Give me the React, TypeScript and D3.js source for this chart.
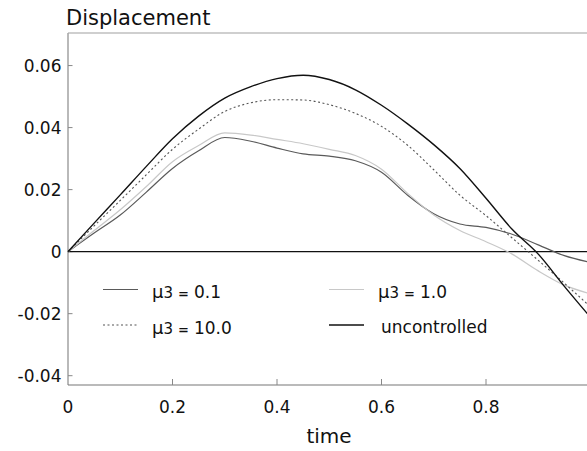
import React from "react";
import * as d3 from "d3";

const times = [0, 0.05, 0.1, 0.15, 0.2, 0.25, 0.3, 0.35, 0.4, 0.45, 0.5, 0.55, 0.6, 0.65, 0.7, 0.75, 0.8, 0.85, 0.9, 0.95, 1.0];

const mu01 = [0, 0.006, 0.0118, 0.0192, 0.0268, 0.0325, 0.0368, 0.0356, 0.0334, 0.0315, 0.0308, 0.0293, 0.0256, 0.0182, 0.0122, 0.0089, 0.0078, 0.0056, 0.0022, -0.0013, -0.0035];
const mu1 = [0, 0.0068, 0.0135, 0.021, 0.029, 0.0342, 0.0383, 0.0376, 0.0362, 0.0348, 0.033, 0.031, 0.0266, 0.0188, 0.0118, 0.0068, 0.0032, -0.0008, -0.0062, -0.0108, -0.0136];
const mu10 = [0, 0.0083, 0.0165, 0.0248, 0.033, 0.0395, 0.0452, 0.048, 0.049, 0.0489, 0.0474, 0.0446, 0.0404, 0.0343, 0.0264, 0.0182, 0.0116, 0.0044, -0.0028, -0.0102, -0.0178];
const uncontrolled = [0, 0.0092, 0.0183, 0.0275, 0.0364, 0.0437, 0.0495, 0.0532, 0.0558, 0.0569, 0.0555, 0.0522, 0.0472, 0.0412, 0.0345, 0.0268, 0.0172, 0.0072, -0.0008, -0.0112, -0.0212];

const yTicks = [0.06, 0.04, 0.02, 0, -0.02, -0.04];
const yTickLabels = ["0.06", "0.04", "0.02", "0", "-0.02", "-0.04"];
const xTicks = [0, 0.2, 0.4, 0.6, 0.8];
const xTickLabels = ["0", "0.2", "0.4", "0.6", "0.8"];

const series = [
  { name: "0.1", values: mu01, color: "#5a5a5a", width: 1.2, dash: "" },
  { name: "1.0", values: mu1, color: "#c8c8c8", width: 1.2, dash: "" },
  { name: "10.0", values: mu10, color: "#555", width: 1.1, dash: "2,2.5" },
  { name: "uncontrolled", values: uncontrolled, color: "#111", width: 1.4, dash: "" },
];

const W = 587;
const H = 451;
const FONT = "'DejaVu Sans', sans-serif";

export default function App() {
  const x = d3.scaleLinear().domain([0, 1]).range([68, 590.5]);
  const y = d3.scaleLinear().domain([-0.043, 0.0705]).range([385, 33]);
  const line = d3
    .line<number>()
    .x((_, i) => x(times[i]))
    .y((d) => y(d))
    .curve(d3.curveMonotoneX);

  const legend = [
    { s: series[0], lx: 103, ly: 289.5, tx: 152, label: "0.1", mu: true },
    { s: series[2], lx: 103, ly: 325, tx: 152, label: "10.0", mu: true },
    { s: series[1], lx: 329, ly: 289.5, tx: 378, label: "1.0", mu: true },
    { s: series[3], lx: 329, ly: 325, tx: 381, label: "uncontrolled", mu: false },
  ];

  return (
    <svg
      width={W}
      height={H}
      style={{ position: "absolute", left: 0, top: 0, display: "block", background: "#fff" }}
      fontFamily={FONT}
    >
      <rect x={0} y={0} width={W} height={H} fill="#fff" />
      <text x={66} y={24.5} fontSize={21} fill="#111">Displacement</text>

      <line x1={68} x2={W} y1={33} y2={33} stroke="#a0a0a0" strokeWidth={1.2} />
      <line x1={68} x2={68} y1={33} y2={385} stroke="#a8a8a8" strokeWidth={1.6} />
      <line x1={68} x2={W} y1={385} y2={385} stroke="#777" strokeWidth={1.2} />

      {yTicks.map((t, i) => (
        <g key={"y" + i}>
          <line x1={68} x2={72.5} y1={y(t)} y2={y(t)} stroke="#888" strokeWidth={1} />
          <text x={61.5} y={y(t)} dy="0.36em" textAnchor="end" fontSize={17} fill="#111">
            {yTickLabels[i]}
          </text>
        </g>
      ))}

      {xTicks.map((t, i) => (
        <g key={"x" + i}>
          {t > 0 && <line x1={x(t)} x2={x(t)} y1={385} y2={379} stroke="#888" strokeWidth={1} />}
          <text x={x(t)} y={412.5} textAnchor="middle" fontSize={17} fill="#111">
            {xTickLabels[i]}
          </text>
        </g>
      ))}
      <text x={329} y={442.5} textAnchor="middle" fontSize={20} fill="#111">time</text>

      <line x1={68} x2={W} y1={y(0)} y2={y(0)} stroke="#111" strokeWidth={1.4} />

      {series.map((s) => (
        <path
          key={s.name}
          d={line(s.values) || ""}
          fill="none"
          stroke={s.color}
          strokeWidth={s.width}
          strokeDasharray={s.dash || undefined}
        />
      ))}

      {legend.map((l, i) => (
        <g key={"l" + i}>
          <line
            x1={l.lx}
            x2={l.lx + 35}
            y1={l.ly}
            y2={l.ly}
            stroke={l.s.color}
            strokeWidth={l.s.width}
            strokeDasharray={l.s.dash || undefined}
          />
          {l.mu ? (
            <text x={l.tx} y={l.ly + 8.5} fontSize={17} fill="#111">
              <tspan fontSize={18}>μ</tspan>
              <tspan fontSize={15}>3</tspan>
              <tspan dx={5} fontWeight="bold" fontSize={13}>=</tspan>
              <tspan dx={5}>{l.label}</tspan>
            </text>
          ) : (
            <text x={l.tx} y={l.ly + 8} fontSize={17} fill="#111">{l.label}</text>
          )}
        </g>
      ))}
    </svg>
  );
}
